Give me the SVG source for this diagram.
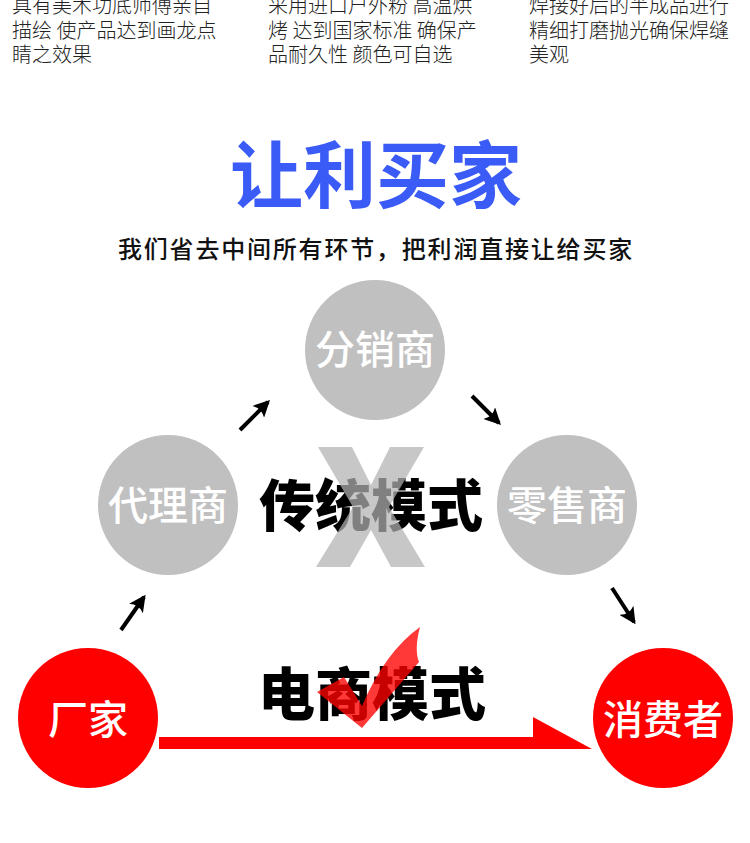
<svg xmlns="http://www.w3.org/2000/svg" width="750" height="843" viewBox="0 0 750 843">
<style>
.desc{font-family:"Noto Sans CJK SC","Noto Sans",sans-serif;font-size:20px;font-weight:300;fill:#222}
.ctext{font-family:"Noto Sans CJK SC","Noto Sans",sans-serif;font-size:40px;font-weight:500;fill:#fff;text-anchor:middle}
.gray{fill:#c0c0c0}
.red{fill:#ff0000}
.big{font-family:"Noto Sans CJK SC","Noto Sans",sans-serif;font-weight:900;fill:#000;text-anchor:middle}
.conn{stroke:#000;stroke-width:4;fill:none;marker-end:url(#ah)}
</style>
<defs>
<marker id="ah" viewBox="0 0 12 12" refX="10" refY="6" markerWidth="4.2" markerHeight="4.2" orient="auto" markerUnits="strokeWidth">
<path d="M0,0 L12,6 L0,12 Q4,6 0,0 Z" fill="#000"/>
</marker>
</defs>
<rect width="750" height="843" fill="#fff"/>
<g id="top-text">
<text class="desc" x="12" y="13">具有美术功底师傅亲自</text>
<text class="desc" x="12" y="38">描绘 使产品达到画龙点</text>
<text class="desc" x="12" y="62">睛之效果</text>
<text class="desc" x="268" y="13">采用进口户外粉 高温烘</text>
<text class="desc" x="268" y="38">烤 达到国家标准 确保产</text>
<text class="desc" x="268" y="62">品耐久性 颜色可自选</text>
<text class="desc" x="529" y="13">焊接好后的半成品进行</text>
<text class="desc" x="529" y="38">精细打磨抛光确保焊缝</text>
<text class="desc" x="529" y="62">美观</text>
</g>
<g id="title">
<text x="376" y="202" text-anchor="middle" style="font-family:'Noto Sans CJK SC',sans-serif;font-size:73px;font-weight:700;fill:#3b5bf7">让利买家</text>
<text x="118" y="258" style="font-family:'Noto Sans CJK SC',sans-serif;font-size:24px;font-weight:500;fill:#111;letter-spacing:1.8px">我们省去中间所有环节，把利润直接让给买家</text>
</g>
<g id="traditional-label">
<text class="big" x="371" y="526" font-size="56">传统模式</text>
<path d="M318,447 L352,447 L371,485 L390,447 L424,447 L389,507 L425,567 L391,567 L371,530 L350,567 L316,567 L353,507 Z" fill="#b2b2b2" fill-opacity="0.72"/>
</g>
<g id="node-fenxiaoshang">
<circle class="gray" cx="375" cy="350" r="70"/>
<text class="ctext" x="375" y="364">分销商</text>
</g>
<g id="node-dailishang">
<circle class="gray" cx="168" cy="505" r="70"/>
<text class="ctext" x="168" y="520">代理商</text>
</g>
<g id="node-lingshoushang">
<circle class="gray" cx="567" cy="505" r="70"/>
<text class="ctext" x="567" y="520">零售商</text>
</g>
<g id="node-changjia">
<circle class="red" cx="88" cy="718" r="70"/>
<text class="ctext" x="88" y="734">厂家</text>
</g>
<g id="node-xiaofeizhe">
<circle class="red" cx="663" cy="718" r="70"/>
<text class="ctext" x="663" y="734">消费者</text>
</g>
<g id="ecommerce-label">
<text class="big" x="372" y="715" font-size="57">电商模式</text>
<path d="M317,692 L344,677 L362,706 Q385,652 420,627 Q414,650 419,662 L362,728 Z" fill="#ff0000" fill-opacity="0.78"/>
</g>
<g id="connectors">
<line class="conn" x1="240" y1="430" x2="268" y2="402"/>
<line class="conn" x1="472" y1="396" x2="499" y2="423"/>
<line class="conn" x1="121" y1="630" x2="144" y2="597"/>
<line class="conn" x1="612" y1="588" x2="634" y2="622"/>
<path d="M159,737 L533,737 L533,717 L592,749 L159,749 Z" fill="#ff0000"/>
</g>
</svg>
